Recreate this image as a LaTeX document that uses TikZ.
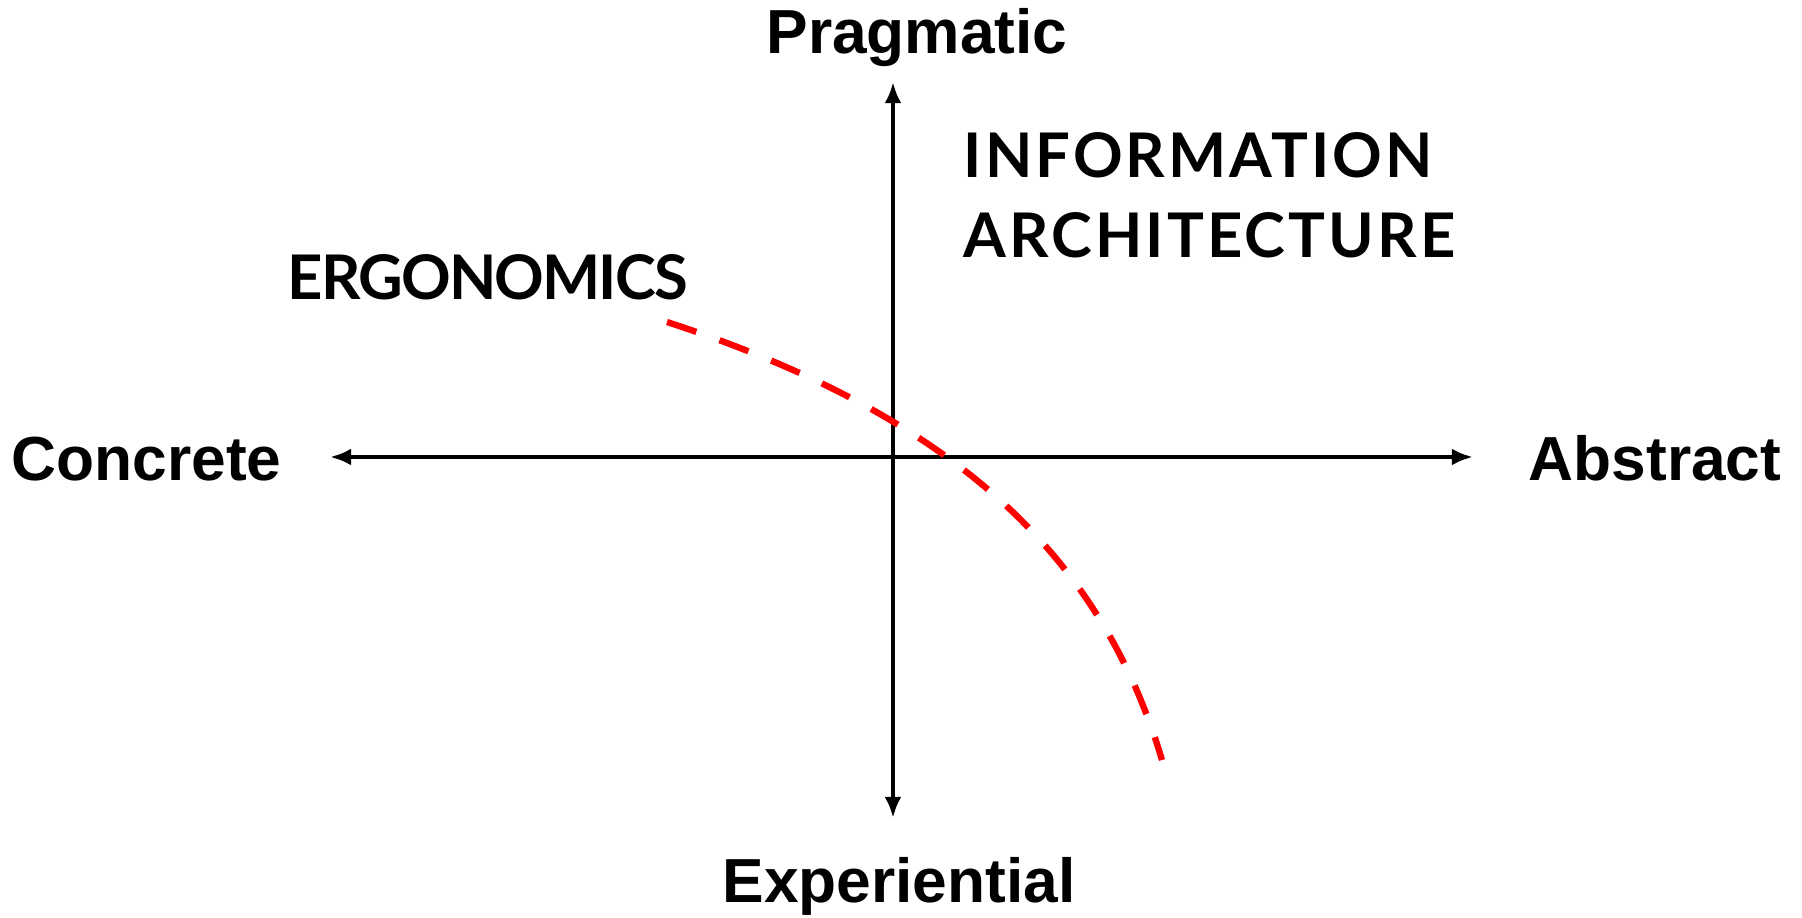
\documentclass[tikz,border=0pt]{standalone}
\usepackage{fontspec}
\setmainfont{Liberation Sans}
\newfontfamily\fieldfont[LetterSpace=5]{Lato}
\newfontfamily\fieldtight[LetterSpace=-3]{Lato}
\usetikzlibrary{arrows.meta}

\begin{document}
\begin{tikzpicture}[x=0.01cm, y=-0.01cm,
  axis/.style={{Latex[length=6pt,width=4.8pt]}-{Latex[length=6pt,width=4.8pt]}, line width=1.4pt},
  pole/.style={font=\bfseries\fontsize{17.7}{20}\selectfont, inner sep=0pt},
  field/.style={font=\fieldfont\bfseries\fontsize{17.5}{21}\selectfont, inner sep=0pt},
  border/.style={red, line width=1.8pt, dash pattern=on 8.8pt off 7pt}
]
\useasboundingbox (0,0) rectangle (1802,918);
% axes
\coordinate (top) at (893,82);
\coordinate (bottom) at (893,818);
\coordinate (left) at (330,457);
\coordinate (right) at (1473,457);
\draw[axis] (bottom) -- (top);
\draw[axis] (left) -- (right);
% pole labels
\node[pole, anchor=base] (prag) at (917,53) {Pragmatic};
\node[pole, anchor=base] (exp) at (899,902) {Experiential};
\node[pole, anchor=base west] (conc) at (11,480) {Concrete};
\node[pole, anchor=base west] (abs) at (1528,480) {Abstract};
% fields
\node[field, anchor=base west] (info) at (963,177) {INFORMATION};
\node[field, anchor=base west] (arch) at (963,257) {ARCHITECTURE};
\node[field, font=\fieldtight\bfseries\fontsize{17.5}{21}\selectfont, anchor=base west] (ergo) at (287,299) {ERGONOMICS};
% boundary between the two fields
\coordinate (ergS) at (667,322);
\coordinate (ergE) at (1162,760);
\draw[border] (ergS) .. controls (955,416) and (1101,556) .. (ergE);
\end{tikzpicture}
\end{document}
